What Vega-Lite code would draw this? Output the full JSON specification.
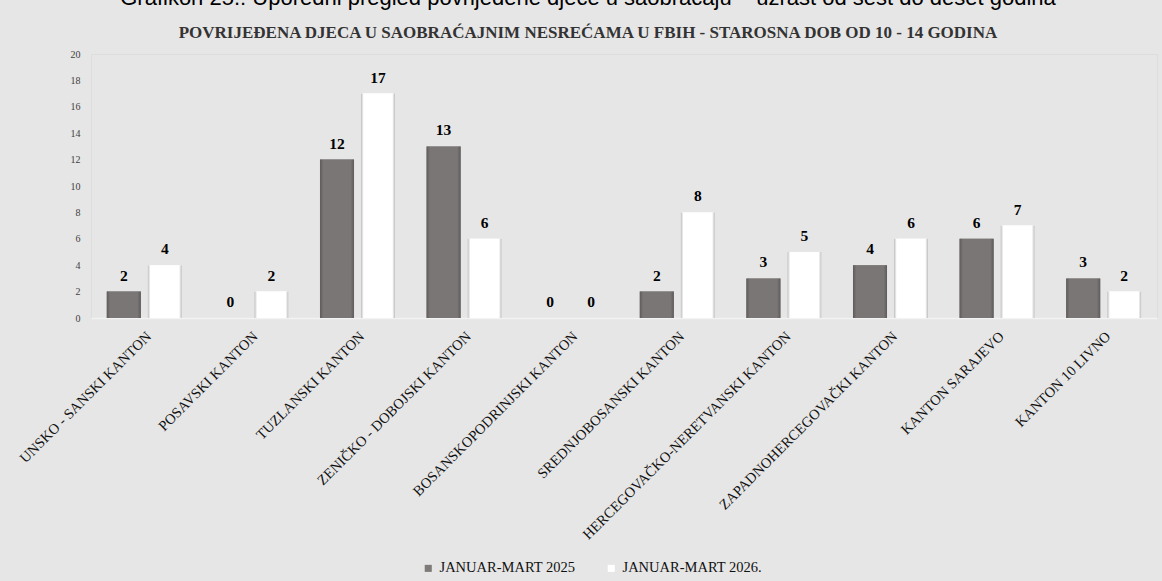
{
  "$schema": "https://vega.github.io/schema/vega-lite/v6.json",
  "width": 1066,
  "height": 264,
  "autosize": {"type": "none"},
  "padding": {"left": 91, "top": 54, "right": 5, "bottom": 263},
  "background": "#e6e6e6",
  "title": {
    "text": "Grafikon 25.: Uporedni pregled povrijeđene djece u saobraćaju – uzrast od šest do deset godina",
    "subtitle": "POVRIJEĐENA DJECA U SAOBRAĆAJNIM NESREĆAMA U FBIH  - STAROSNA  DOB  OD 10 - 14 GODINA",
    "anchor": "middle",
    "frame": "group",
    "font": "Liberation Sans",
    "fontSize": 22,
    "fontWeight": "normal",
    "color": "#000000",
    "subtitleFont": "Liberation Serif",
    "subtitleFontSize": 17,
    "subtitleFontWeight": "bold",
    "subtitleColor": "#333333",
    "subtitlePadding": 15,
    "offset": 8,
    "dx": -36,
    "dy": 1
  },
  "data": {
    "values": [
      {"kanton": "UNSKO - SANSKI KANTON", "serija": "JANUAR-MART 2025", "broj": 2},
      {"kanton": "UNSKO - SANSKI KANTON", "serija": "JANUAR-MART 2026.", "broj": 4},
      {"kanton": "POSAVSKI KANTON", "serija": "JANUAR-MART 2025", "broj": 0},
      {"kanton": "POSAVSKI KANTON", "serija": "JANUAR-MART 2026.", "broj": 2},
      {"kanton": "TUZLANSKI KANTON", "serija": "JANUAR-MART 2025", "broj": 12},
      {"kanton": "TUZLANSKI KANTON", "serija": "JANUAR-MART 2026.", "broj": 17},
      {"kanton": "ZENIČKO - DOBOJSKI KANTON", "serija": "JANUAR-MART 2025", "broj": 13},
      {"kanton": "ZENIČKO - DOBOJSKI KANTON", "serija": "JANUAR-MART 2026.", "broj": 6},
      {"kanton": "BOSANSKOPODRINJSKI KANTON", "serija": "JANUAR-MART 2025", "broj": 0},
      {"kanton": "BOSANSKOPODRINJSKI KANTON", "serija": "JANUAR-MART 2026.", "broj": 0},
      {"kanton": "SREDNJOBOSANSKI KANTON", "serija": "JANUAR-MART 2025", "broj": 2},
      {"kanton": "SREDNJOBOSANSKI KANTON", "serija": "JANUAR-MART 2026.", "broj": 8},
      {"kanton": "HERCEGOVAČKO-NERETVANSKI KANTON", "serija": "JANUAR-MART 2025", "broj": 3},
      {"kanton": "HERCEGOVAČKO-NERETVANSKI KANTON", "serija": "JANUAR-MART 2026.", "broj": 5},
      {"kanton": "ZAPADNOHERCEGOVAČKI KANTON", "serija": "JANUAR-MART 2025", "broj": 4},
      {"kanton": "ZAPADNOHERCEGOVAČKI KANTON", "serija": "JANUAR-MART 2026.", "broj": 6},
      {"kanton": "KANTON SARAJEVO", "serija": "JANUAR-MART 2025", "broj": 6},
      {"kanton": "KANTON SARAJEVO", "serija": "JANUAR-MART 2026.", "broj": 7},
      {"kanton": "KANTON 10 LIVNO", "serija": "JANUAR-MART 2025", "broj": 3},
      {"kanton": "KANTON 10 LIVNO", "serija": "JANUAR-MART 2026.", "broj": 2}
    ]
  },
  "encoding": {
    "x": {
      "field": "kanton",
      "type": "nominal",
      "sort": null,
      "scale": {"paddingInner": 0, "paddingOuter": 0},
      "axis": {
        "title": null,
        "labelAngle": -45,
        "labelFont": "Liberation Serif",
        "labelFontSize": 14.5,
        "labelColor": "#111111",
        "labelLimit": 400,
        "labelPadding": 11,
        "ticks": false,
        "domainColor": "#f3f3f3",
        "domainWidth": 1.5
      }
    },
    "xOffset": {
      "field": "serija",
      "type": "nominal",
      "scale": {"paddingInner": 0.17, "paddingOuter": 0.385}
    },
    "y": {
      "field": "broj",
      "type": "quantitative",
      "scale": {"domain": [0, 20]},
      "axis": {
        "title": null,
        "values": [0, 2, 4, 6, 8, 10, 12, 14, 16, 18, 20],
        "domain": false,
        "ticks": false,
        "grid": false,
        "labelFont": "Liberation Serif",
        "labelFontSize": 10,
        "labelColor": "#404040",
        "labelPadding": 11
      }
    }
  },
  "layer": [
    {
      "mark": {"type": "bar"},
      "encoding": {
        "color": {
          "field": "serija",
          "type": "nominal",
          "scale": {"range": ["#7f7a7a", "#ffffff"]},
          "legend": {
            "title": null,
            "orient": "none",
            "legendX": 330,
            "legendY": 507,
            "direction": "horizontal",
            "symbolType": "square",
            "symbolSize": 50,
            "symbolStrokeWidth": 0,
            "labelFont": "Liberation Serif",
            "labelFontSize": 14.5,
            "labelColor": "#111111",
            "columnPadding": 28
          }
        }
      }
    },
    {
      "transform": [{"filter": "datum.serija === 'JANUAR-MART 2025'"}],
      "mark": {
        "type": "bar",
        "color": {
          "gradient": "linear",
          "x1": 0, "x2": 1, "y1": 0, "y2": 0,
          "stops": [
            {"offset": 0, "color": "#5f5b5b"},
            {"offset": 0.1, "color": "#7b7676"},
            {"offset": 0.9, "color": "#7b7676"},
            {"offset": 1, "color": "#5f5b5b"}
          ]
        }
      }
    },
    {
      "transform": [{"filter": "datum.serija === 'JANUAR-MART 2026.'"}],
      "mark": {
        "type": "bar",
        "color": {
          "gradient": "linear",
          "x1": 0, "x2": 1, "y1": 0, "y2": 0,
          "stops": [
            {"offset": 0, "color": "#bdbdbd"},
            {"offset": 0.08, "color": "#ffffff"},
            {"offset": 0.92, "color": "#ffffff"},
            {"offset": 1, "color": "#bdbdbd"}
          ]
        }
      }
    },
    {
      "mark": {
        "type": "text",
        "baseline": "bottom",
        "dy": -8,
        "font": "Liberation Serif",
        "fontSize": 15.5,
        "fontWeight": "bold",
        "color": "#000000"
      },
      "encoding": {"text": {"field": "broj", "type": "quantitative"}}
    }
  ]
}
